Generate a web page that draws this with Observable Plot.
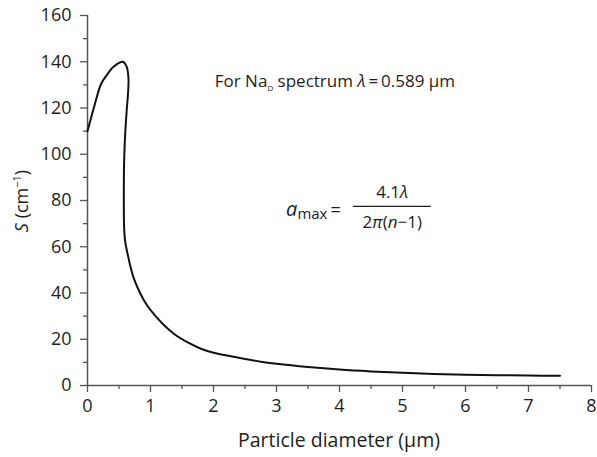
<!DOCTYPE html>
<html><head><meta charset="utf-8">
<script src="https://cdn.jsdelivr.net/npm/d3@7"></script>
<script src="https://cdn.jsdelivr.net/npm/@observablehq/plot@0.6"></script>
<style>body{margin:0;background:#fff;}</style>
</head><body><div id="chart"></div>
<script>
// Particle diameter (µm)
const diameter = [0, 0.1, 0.217, 0.3, 0.4, 0.5, 0.56, 0.62, 0.65, 0.645, 0.625, 0.605, 0.59, 0.58, 0.577, 0.577, 0.579, 0.586, 0.597, 0.62, 0.65, 0.683, 0.735, 0.84, 0.95, 1.05, 1.2, 1.37, 1.6, 1.8, 2.0, 2.4, 2.75, 3.0, 3.5, 4.0, 4.5, 5.0, 5.5, 6.0, 6.5, 7.0, 7.5];
// S (cm^-1)
const scattering = [110, 120, 130.5, 134, 137.5, 139.5, 140, 138, 133, 127, 120, 112, 104, 95, 86, 76, 70.5, 66, 62.5, 59, 55.2, 51.2, 46.3, 39.7, 34.5, 31, 26.5, 22.4, 18.5, 15.9, 14.2, 12, 10.3, 9.4, 8, 6.9, 6.1, 5.5, 5.0, 4.7, 4.45, 4.3, 4.2];
const xTicks = [0, 1, 2, 3, 4, 5, 6, 7, 8];
const xMinorTicks = [0.5, 1.5, 2.5, 3.5, 4.5, 5.5, 6.5, 7.5];
const yTicks = [0, 20, 40, 60, 80, 100, 120, 140, 160];
const yMinorTicks = [10, 30, 50, 70, 90, 110, 130, 150];
const xLabel = "Particle diameter (µm)";
const yLabel = "S (cm⁻¹)";
// annotation anchors (data units)
const noteText = ["For NaD spectrum λ = 0.589 µm"];
const noteX = [2.02];
const noteY = [129];
const formulaLeft = ["amax ="];
const formulaLeftX = [4.02];
const formulaLeftY = [73.5];
const formulaNum = ["4.1λ"];
const formulaDen = ["2π(n−1)"];
const fracX = [4.22, 5.455];
const fracY = [77.5];
const numY = [80.9];
const denY = [67.9];

const points = diameter.map((d, i) => ({d, s: scattering[i]}));
const axisColor = "#555";
const textColor = "#1e1e1e";
const font = "Open Sans";
const fs = 18;

const chart = Plot.plot({
  width: 597,
  height: 457,
  marginLeft: 87,
  marginRight: 6,
  marginTop: 15,
  marginBottom: 72,
  style: {fontFamily: font, fontSize: fs + "px", color: textColor, background: "#fff"},
  x: {domain: [0, 8]},
  y: {domain: [0, 160]},
  marks: [
    Plot.axisX({ticks: xMinorTicks, tickSize: 4, tickFormat: () => "", stroke: axisColor, strokeWidth: 1.3, label: null}),
    Plot.axisX({ticks: xTicks, tickSize: 7, tickPadding: 7, fontSize: fs, stroke: axisColor, strokeWidth: 1.3, fill: textColor, label: null}),
    Plot.axisY({ticks: yMinorTicks, tickSize: 4, tickFormat: () => "", stroke: axisColor, strokeWidth: 1.3, label: null}),
    Plot.axisY({ticks: yTicks, tickSize: 7, tickPadding: 9, fontSize: fs, stroke: axisColor, strokeWidth: 1.3, fill: textColor, label: null}),
    Plot.ruleY([0], {stroke: axisColor, strokeWidth: 1.5}),
    Plot.ruleX([0], {stroke: axisColor, strokeWidth: 1.5}),
    Plot.line(points, {x: "d", y: "s", curve: "catmull-rom", stroke: "#111", strokeWidth: 2}),
    Plot.text(noteText, {x: noteX, y: noteY, text: d => d, textAnchor: "start", lineAnchor: "bottom", fontSize: 17, fill: textColor}),
    Plot.text(formulaLeft, {x: formulaLeftX, y: formulaLeftY, text: d => d, textAnchor: "end", lineAnchor: "bottom", fontSize: 18, fill: textColor}),
    Plot.text(formulaNum, {x: [(fracX[0] + fracX[1]) / 2], y: numY, text: d => d, textAnchor: "middle", lineAnchor: "bottom", fontSize: 17, fill: textColor}),
    Plot.text(formulaDen, {x: [(fracX[0] + fracX[1]) / 2], y: denY, text: d => d, textAnchor: "middle", lineAnchor: "bottom", fontSize: 17, fill: textColor}),
    Plot.ruleY(fracY, {x1: fracX[0], x2: fracX[1], stroke: textColor, strokeWidth: 1.2})
  ]
});

// rich text formatting
d3.select(chart).selectAll("text").each(function() {
  const t = this.textContent;
  if (t === noteText[0]) {
    this.innerHTML = 'For Na<tspan font-size="8" dy="4">D</tspan><tspan dy="-4"> spectrum </tspan><tspan font-style="italic">λ</tspan>\u2009=\u20090.589 µm';
  } else if (t === formulaLeft[0]) {
    this.innerHTML = '<tspan font-style="italic" font-size="20">a</tspan><tspan font-size="15" dy="3">max</tspan><tspan dy="-3">\u2009=</tspan>';
  } else if (t === formulaNum[0]) {
    this.innerHTML = '4.1<tspan font-style="italic">λ</tspan>';
  } else if (t === formulaDen[0]) {
    this.innerHTML = '2<tspan font-style="italic">π</tspan>(<tspan font-style="italic">n</tspan>−1)';
  }
});

const svg = d3.select(chart);
svg.append("text")
  .attr("x", 339).attr("y", 447)
  .attr("text-anchor", "middle").attr("font-size", 19.5).attr("fill", textColor)
  .attr("font-family", font)
  .text(xLabel);
const yl = svg.append("text")
  .attr("transform", "translate(28,201) rotate(-90)")
  .attr("text-anchor", "middle").attr("font-size", 18).attr("fill", textColor)
  .attr("font-family", font);
yl.html('<tspan font-style="italic">S</tspan> (cm<tspan font-size="11" dy="-7">−1</tspan><tspan dy="7">)</tspan>');

document.getElementById("chart").appendChild(chart);
</script>
</body></html>
